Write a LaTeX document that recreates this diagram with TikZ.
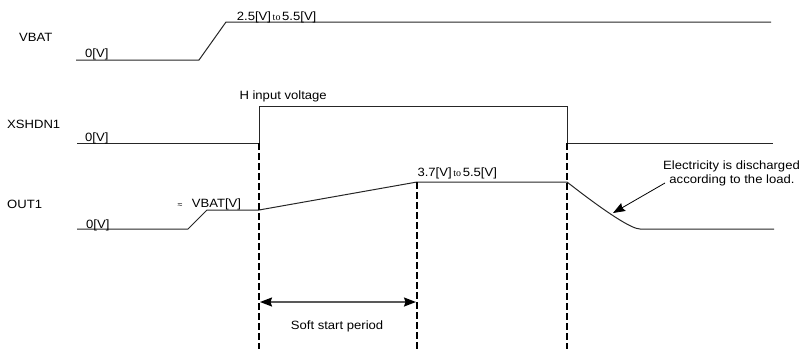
\documentclass[tikz,border=0pt]{standalone}
\usepackage{fontspec}
\setmainfont{Liberation Sans}[FakeStretch=1.09]
\newfontfamily\tofont{Liberation Serif}
\usetikzlibrary{arrows.meta}
\newcommand{\tow}{{\tofont\fontsize{10}{10}\selectfont\,to\,}}
\begin{document}
\begin{tikzpicture}[x=1pt,y=-1pt,
  wave/.style={line width=1pt, black!85},
  guide/.style={line width=2.2pt, dash pattern=on 6.5pt off 3.5pt},
  lbl/.style={inner sep=0pt, anchor=base west, font=\fontsize{12}{14}\selectfont},
  clbl/.style={inner sep=0pt, anchor=base, font=\fontsize{12}{14}\selectfont},
  >={Stealth[length=12pt,width=9pt,inset=1.5pt,color=black]},
  ]
\useasboundingbox (0,0) rectangle (802,349);

% --- signal names
\node[lbl] (nvbat) at (19,41) {VBAT};
\node[lbl] (nxsh) at (7,128.3) {XSHDN1};
\node[lbl] (nout) at (7,208.3) {OUT1};

% --- VBAT waveform
\coordinate (a0) at (76,60);
\coordinate (a1) at (199,60);
\coordinate (a2) at (226,22);
\coordinate (a3) at (771,22);
\draw[wave] (a0) -- (a1) -- (a2) -- (a3);
\node[lbl] (av0) at (85,57.3) {0[V]};
\node[lbl] (avh) at (236.7,20) {2.5[V]\tow 5.5[V]};

% --- XSHDN1 waveform
\coordinate (b0) at (77,143);
\coordinate (b1) at (259,143);
\coordinate (b2) at (259,106);
\coordinate (b3) at (567,106);
\coordinate (b4) at (567,143);
\coordinate (b5) at (773,143);
\draw[wave] (b0) -- (b1) -- (b2) -- (b3) -- (b4) -- (b5);
\node[lbl] (bv0) at (85,141.5) {0[V]};
\node[lbl] (bvh) at (239.3,99) {H input voltage};

% --- OUT1 waveform
\coordinate (c0) at (77,229);
\coordinate (c1) at (188,229);
\coordinate (c2) at (207,210);
\coordinate (c3) at (259,210);
\coordinate (c4) at (417,182);
\coordinate (c5) at (567,182);
\coordinate (c6) at (640,229);
\coordinate (c7) at (774,229);
\draw[wave] (c0) -- (c1) -- (c2) -- (c3) -- (c4) -- (c5)
  .. controls (608,214) and (632,229) .. (c6) -- (c7);
\node[lbl] (cv0) at (86,228) {0[V]};
\node[lbl, font=\fontsize{8}{8}\selectfont] (capprox) at (177.5,207) {≈};
\node[lbl] (cvb) at (191.7,207.7) {VBAT[V]};
\node[lbl] (cvh) at (417.3,176.7) {3.7[V]\tow 5.5[V]};

% --- dashed guides
\coordinate (d1) at (259,349);
\coordinate (d2) at (417,349);
\coordinate (d3) at (567,349);
\draw[guide] (b1) -- (d1);
\draw[guide] (c4) -- (d2);
\draw[guide] (b4) -- (d3);

% --- soft start period
\coordinate (s1) at (260,302);
\coordinate (s2) at (416,302);
\draw[line width=1.5pt, black!65, <->] (s1) -- (s2);
\node[lbl] (soft) at (290.7,329.3) {Soft start period};

% --- discharge note
\node[clbl] (e1) at (731.5,169.3) {Electricity is discharged};
\node[clbl] (e2) at (732,183.7) {according to the load.};
\coordinate (etail) at (665,183);
\coordinate (etip) at (613,213);
\draw[line width=0.8pt, ->] (etail) -- (etip);
\end{tikzpicture}
\end{document}
